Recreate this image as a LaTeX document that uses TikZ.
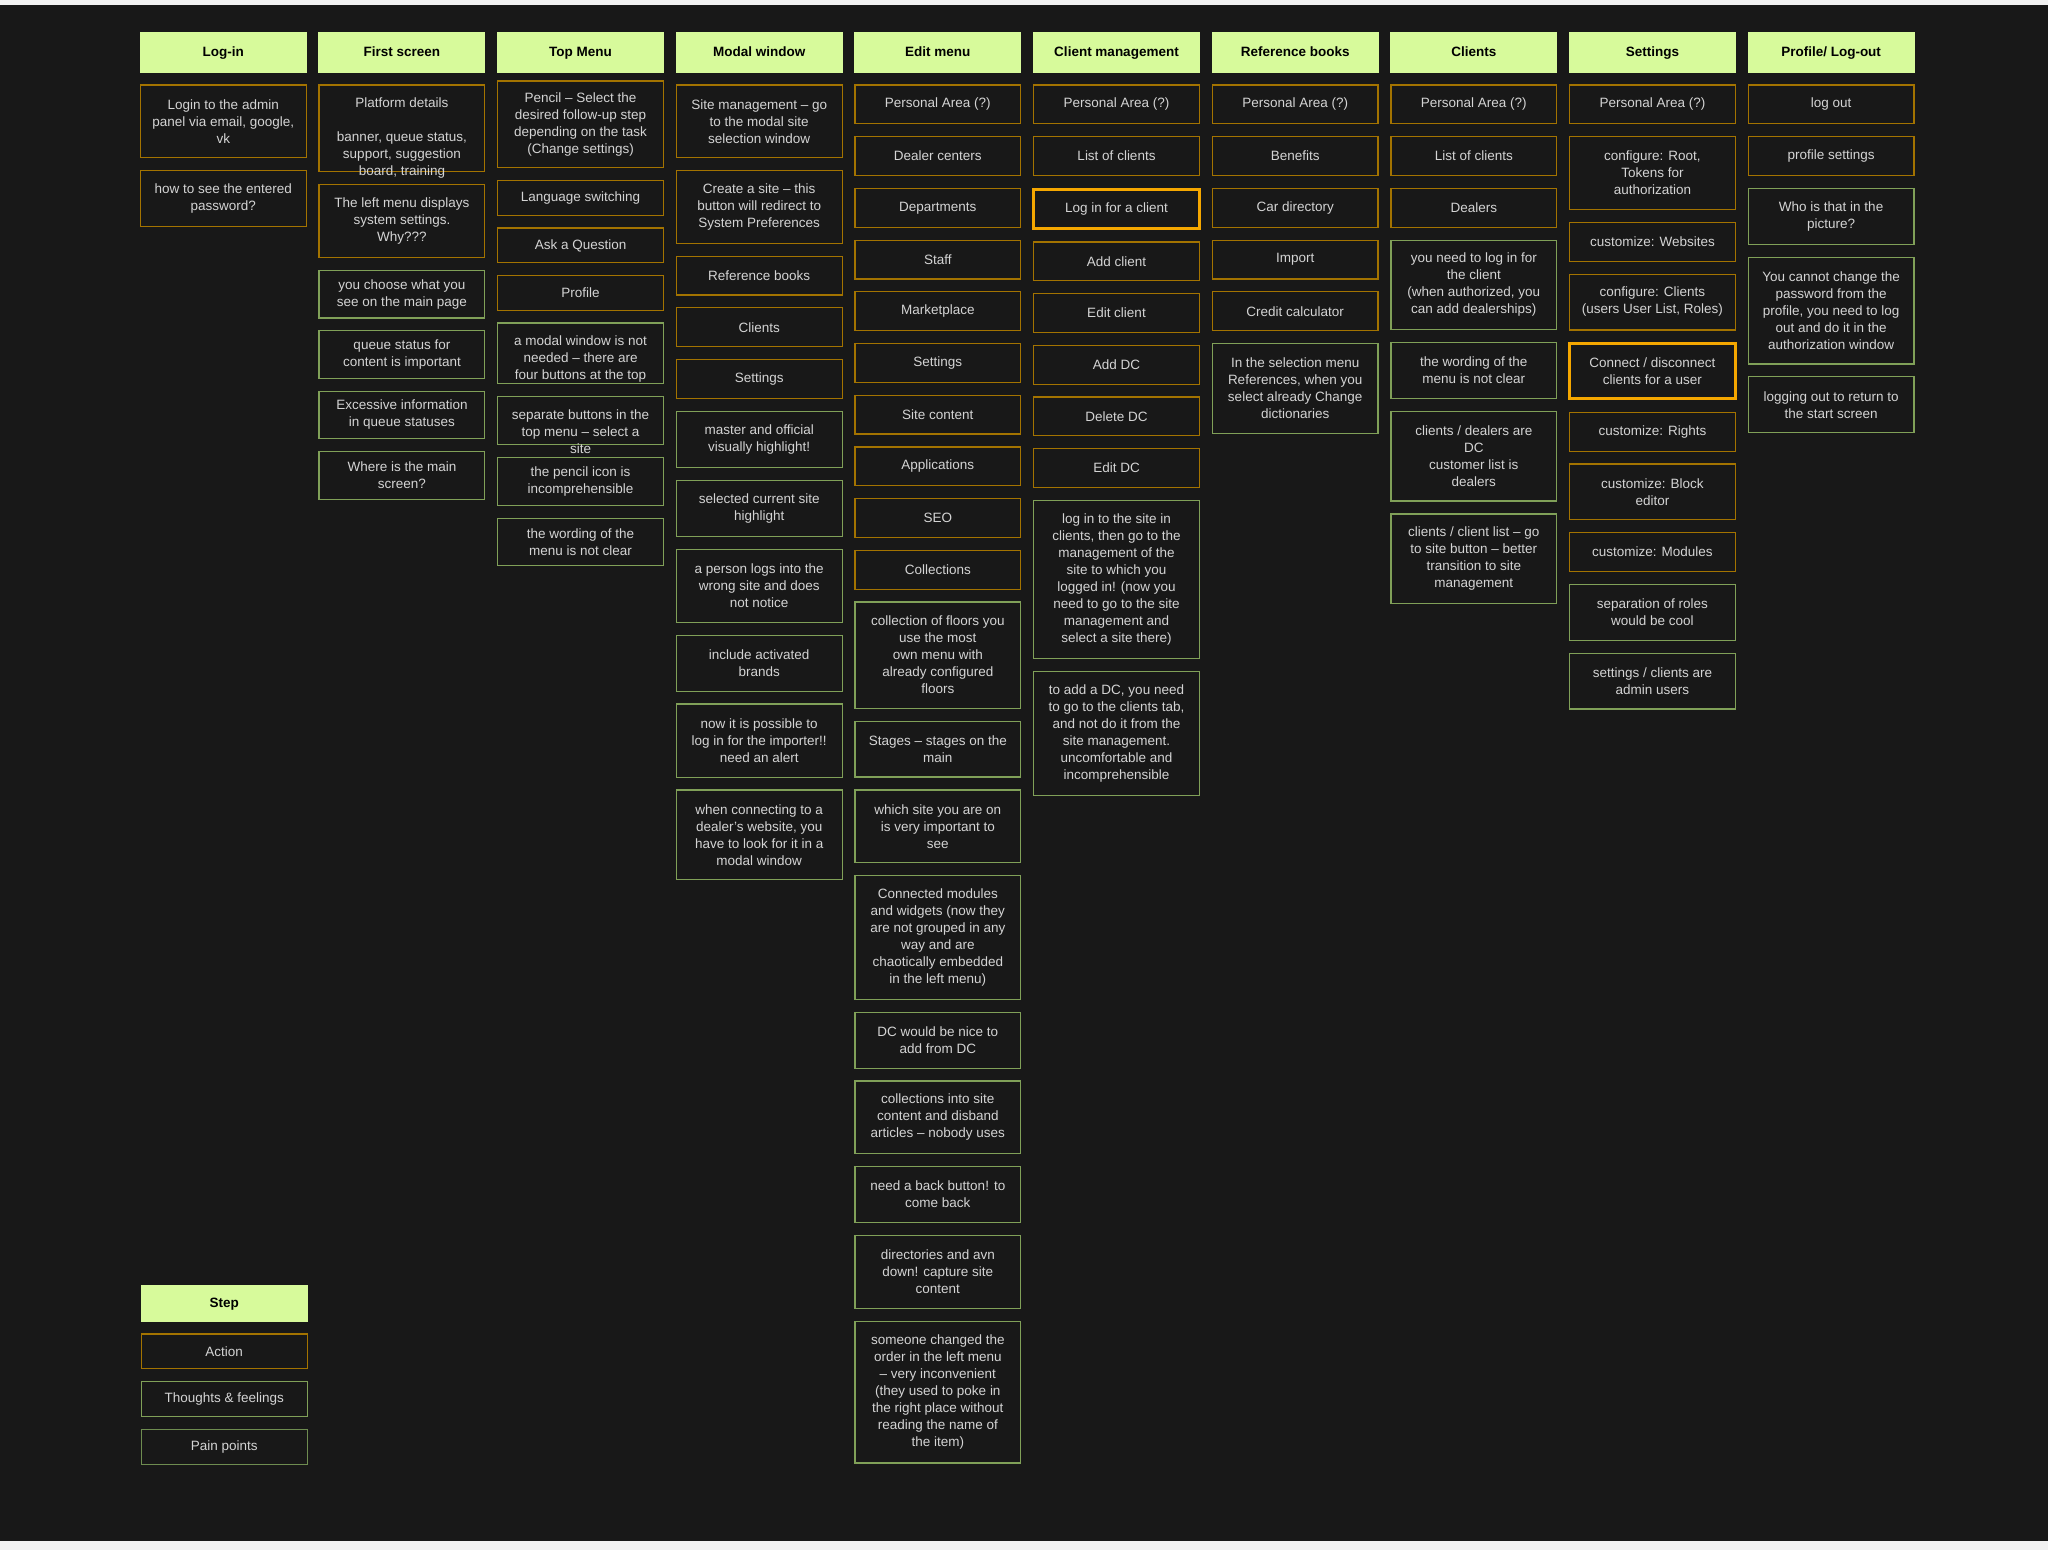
\documentclass[tikz,border=0pt]{standalone}
\usepackage{fontspec}
\setmainfont{Liberation Sans}
\usetikzlibrary{positioning}

\definecolor{boardbg}{HTML}{181818}
\definecolor{pageedge}{HTML}{F2F2F2}
\definecolor{headgreen}{HTML}{D7FA9B}
\definecolor{actiongold}{HTML}{A37300}
\definecolor{thoughtgreen}{HTML}{80A058}
\definecolor{paingreen}{HTML}{6E8C50}
\definecolor{hotorange}{HTML}{F5A700}
\definecolor{cardtext}{HTML}{D4D4D4}

\tikzset{
  card/.style={draw, rectangle, minimum width=165.8pt, inner xsep=2pt, inner ysep=1pt,
    align=center, text=cardtext, font=\fontsize{13.5}{17}\selectfont, line width=1.2pt},
  cardlabel/.style={align=center, text=cardtext, font=\fontsize{13.5}{17}\selectfont, inner sep=0pt},
  stephead/.style={rectangle, fill=headgreen, minimum width=167pt, minimum height=40.4pt, outer sep=0pt,
    text height=10pt, text depth=3pt, font=\fontsize{13.5}{17}\selectfont\bfseries, text=black},
  action/.style={card, draw=actiongold},
  thought/.style={card, draw=thoughtgreen},
  pain/.style={card, draw=paingreen},
  hot/.style={card, draw=hotorange, line width=3pt},
  tall/.style={minimum height=#1pt-1.2pt},
}

\begin{document}
\begin{tikzpicture}[x=1pt,y=-1pt,node distance=11.7pt]
        \fill[pageedge] (0,0) rectangle (2048,1550);
        \fill[boardbg] (0,5) rectangle (2048,1541);
        \useasboundingbox (0,0) rectangle (2048,1550);

        % step headers
        \node (login) [stephead, anchor=north west] at (139.75,32.3) {Log-in};
        \node (first) [stephead, right=11.65pt of login] {First screen};
        \node (topmenu) [stephead, right=11.65pt of first] {Top Menu};
        \node (modal) [stephead, right=11.65pt of topmenu] {Modal window};
        \node (edit) [stephead, right=11.65pt of modal] {Edit menu};
        \node (clientmgmt) [stephead, right=11.65pt of edit] {Client management};
        \node (refbooks) [stephead, right=11.65pt of clientmgmt] {Reference books};
        \node (clients) [stephead, right=11.65pt of refbooks] {Clients};
        \node (settings) [stephead, right=11.65pt of clients] {Settings};
        \node (profile) [stephead, right=11.65pt of settings] {Profile/ Log-out};

        % Log-in
        \node (login1) [action, tall=74, below=of login] {Login to the admin\\panel via email, google,\\vk};
        \node (login2) [action, tall=57, below=of login1] {how to see the entered\\password?};

        % First screen
        \node (first1) [action, tall=88, below=of first] {};
        \node (first1t) [cardlabel, below=13.5pt of first1.north] {Platform details\\[17pt]banner, queue status,\\support, suggestion\\board, training};
        \node (first2) [action, tall=74, below=of first1] {The left menu displays\\system settings.\\Why???};
        \node (first3) [thought, tall=48.7, below=of first2] {you choose what you\\see on the main page};
        \node (first4) [thought, tall=48.7, below=of first3] {queue status for\\content is important};
        \node (first5) [thought, tall=48.7, below=of first4] {Excessive information\\in queue statuses};
        \node (first6) [thought, tall=48.7, below=of first5] {Where is the main\\screen?};

        % Top Menu
        \node (top1) [action, tall=87.6, below=7.7pt of topmenu] {Pencil – Select the\\desired follow-up step\\depending on the task\\(Change settings)};
        \node (top2) [action, tall=36, below=of top1] {Language switching};
        \node (top3) [action, tall=36, below=of top2] {Ask a Question};
        \node (top4) [action, tall=35.6, below=of top3] {Profile};
        \node (top5) [thought, tall=62, below=of top4] {};
        \node (top5t) [cardlabel, below=13.5pt of top5.north] {a modal window is not\\needed – there are\\four buttons at the top};
        \node (top6) [thought, tall=49, below=of top5] {};
        \node (top6t) [cardlabel, below=13.5pt of top6.north] {separate buttons in the\\top menu – select a\\site};
        \node (top7) [thought, tall=49, below=of top6] {the pencil icon is\\incomprehensible};
        \node (top8) [thought, tall=48.6, below=of top7] {the wording of the\\menu is not clear};

        % Modal window
        \node (modal1) [action, tall=74, below=of modal] {Site management – go\\to the modal site\\selection window};
        \node (modal2) [action, tall=74, below=of modal1] {Create a site – this\\button will redirect to\\System Preferences};
        \node (modal3) [action, tall=39.7, below=of modal2] {Reference books};
        \node (modal4) [action, tall=40, below=of modal3] {Clients};
        \node (modal5) [action, tall=40, below=of modal4] {Settings};
        \node (modal6) [thought, tall=57.3, below=of modal5] {master and official\\visually highlight!};
        \node (modal7) [thought, tall=57.3, below=of modal6] {selected current site\\highlight};
        \node (modal8) [thought, tall=74.4, below=of modal7] {a person logs into the\\wrong site and does\\not notice};
        \node (modal9) [thought, tall=57, below=of modal8] {include activated\\brands};
        \node (modal10) [thought, tall=74.3, below=of modal9] {now it is possible to\\log in for the importer!!\\need an alert};
        \node (modal11) [thought, tall=91, below=of modal10] {when connecting to a\\dealer's website, you\\have to look for it in a\\modal window};

        % Edit menu
        \node (edit1) [action, tall=40, below=of edit] {Personal Area (?)};
        \node (edit2) [action, tall=40, below=of edit1] {Dealer centers};
        \node (edit3) [action, tall=40, below=of edit2] {Departments};
        \node (edit4) [action, tall=40, below=of edit3] {Staff};
        \node (edit5) [action, tall=40, below=of edit4] {Marketplace};
        \node (edit6) [action, tall=40, below=of edit5] {Settings};
        \node (edit7) [action, tall=40, below=of edit6] {Site content};
        \node (edit8) [action, tall=40, below=of edit7] {Applications};
        \node (edit9) [action, tall=40, below=of edit8] {SEO};
        \node (edit10) [action, tall=40, below=of edit9] {Collections};
        \node (edit11) [thought, tall=107.5, below=of edit10] {collection of floors you\\use the most\\own menu with\\already configured\\floors};
        \node (edit12) [thought, tall=57, below=of edit11] {Stages – stages on the\\main};
        \node (edit13) [thought, tall=74, below=of edit12] {which site you are on\\is very important to\\see};
        \node (edit14) [thought, tall=125, below=of edit13] {Connected modules\\and widgets (now they\\are not grouped in any\\way and are\\chaotically embedded\\in the left menu)};
        \node (edit15) [thought, tall=57, below=of edit14] {DC would be nice to\\add from DC};
        \node (edit16) [thought, tall=74, below=of edit15] {collections into site\\content and disband\\articles – nobody uses};
        \node (edit17) [thought, tall=57, below=of edit16] {need a back button! to\\come back};
        \node (edit18) [thought, tall=74, below=of edit17] {directories and avn\\down! capture site\\content};
        \node (edit19) [thought, tall=143, below=of edit18] {someone changed the\\order in the left menu\\– very inconvenient\\(they used to poke in\\the right place without\\reading the name of\\the item)};

        % Client management
        \node (cm1) [action, tall=40, below=of clientmgmt] {Personal Area (?)};
        \node (cm2) [action, tall=40, below=of cm1] {List of clients};
        \node (cm3) [hot, tall=40, below=of cm2] {Log in for a client};
        \node (cm4) [action, tall=40, below=of cm3] {Add client};
        \node (cm5) [action, tall=40, below=of cm4] {Edit client};
        \node (cm6) [action, tall=40, below=of cm5] {Add DC};
        \node (cm7) [action, tall=40, below=of cm6] {Delete DC};
        \node (cm8) [action, tall=40, below=of cm7] {Edit DC};
        \node (cm9) [thought, tall=159.5, below=of cm8] {log in to the site in\\clients, then go to the\\management of the\\site to which you\\logged in! (now you\\need to go to the site\\management and\\select a site there)};
        \node (cm10) [thought, tall=125.4, below=of cm9] {to add a DC, you need\\to go to the clients tab,\\and not do it from the\\site management.\\uncomfortable and\\incomprehensible};

        % Reference books
        \node (ref1) [action, tall=40, below=of refbooks] {Personal Area (?)};
        \node (ref2) [action, tall=40, below=of ref1] {Benefits};
        \node (ref3) [action, tall=40, below=of ref2] {Car directory};
        \node (ref4) [action, tall=40, below=of ref3] {Import};
        \node (ref5) [action, tall=40, below=of ref4] {Credit calculator};
        \node (ref6) [thought, tall=91, below=of ref5] {In the selection menu\\References, when you\\select already Change\\dictionaries};

        % Clients
        \node (cl1) [action, tall=40, below=of clients] {Personal Area (?)};
        \node (cl2) [action, tall=40, below=of cl1] {List of clients};
        \node (cl3) [action, tall=40, below=of cl2] {Dealers};
        \node (cl4) [thought, tall=90.7, below=of cl3] {you need to log in for\\the client\\(when authorized, you\\can add dealerships)};
        \node (cl5) [thought, tall=57, below=of cl4] {the wording of the\\menu is not clear};
        \node (cl6) [thought, tall=91, below=of cl5] {clients / dealers are\\DC\\customer list is\\dealers};
        \node (cl7) [thought, tall=91, below=of cl6] {clients / client list – go\\to site button – better\\transition to site\\management};

        % Settings
        \node (set1) [action, tall=40, below=of settings] {Personal Area (?)};
        \node (set2) [action, tall=74, below=of set1] {configure: Root,\\Tokens for\\authorization};
        \node (set3) [action, tall=40, below=of set2] {customize: Websites};
        \node (set4) [action, tall=57, below=of set3] {configure: Clients\\(users User List, Roles)};
        \node (set5) [hot, tall=56, below=of set4] {Connect / disconnect\\clients for a user};
        \node (set6) [action, tall=40, below=of set5] {customize: Rights};
        \node (set7) [action, tall=57, below=of set6] {customize: Block\\editor};
        \node (set8) [action, tall=40, below=of set7] {customize: Modules};
        \node (set9) [thought, tall=57, below=of set8] {separation of roles\\would be cool};
        \node (set10) [thought, tall=57, below=of set9] {settings / clients are\\admin users};

        % Profile/ Log-out
        \node (pro1) [action, tall=40, below=of profile] {log out};
        \node (pro2) [action, tall=40, below=of pro1] {profile settings};
        \node (pro3) [thought, tall=57, below=of pro2] {Who is that in the\\picture?};
        \node (pro4) [thought, tall=108, below=of pro3] {You cannot change the\\password from the\\profile, you need to log\\out and do it in the\\authorization window};
        \node (pro5) [thought, tall=57, below=of pro4] {logging out to return to\\the start screen};

        % legend
        \node (step) [stephead, minimum height=36.4pt, anchor=north west] at (140.7,1285.3) {Step};
        \node (act) [action, tall=36, below=of step] {Action};
        \node (feel) [thought, tall=36, below=of act] {Thoughts \& feelings};
        \node (pain) [pain, tall=36.4, below=of feel] {Pain points};
\end{tikzpicture}
\end{document}
